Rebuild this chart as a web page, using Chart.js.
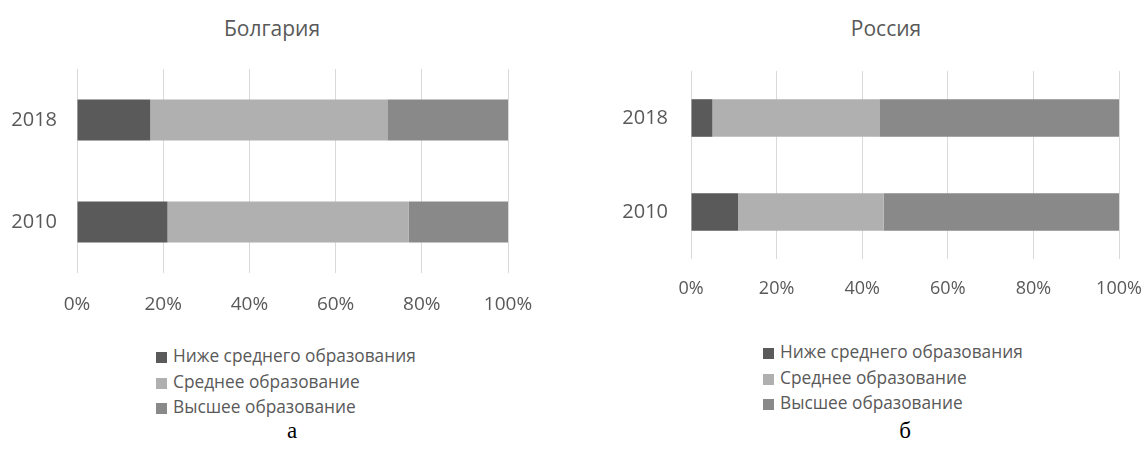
<!DOCTYPE html>
<html>
<head>
<meta charset="utf-8">
<script src="https://cdn.jsdelivr.net/npm/chart.js"></script>
<style>
  body { margin: 0; width: 1147px; height: 452px; background: #fff; position: relative; overflow: hidden;
         font-family: "Open Sans", sans-serif; color: #595959; }
  canvas { position: absolute; }
  .title { position: absolute; width: 300px; text-align: center; font-size: 21px; line-height: 30px; top: 13px; }
  .legend { position: absolute; font-size: 17.3px; }
  .legend div { height: 25.5px; line-height: 25.5px; white-space: nowrap; }
  .legend span.sw { display: inline-block; width: 11px; height: 11px; margin-right: 6px; vertical-align: -1px; }
  .cap { position: absolute; width: 100px; text-align: center; font-family: "Liberation Serif", serif;
         font-size: 23px; line-height: 26px; top: 418px; color: #000; }
</style>
</head>
<body>
<div class="title" style="left:122px">Болгария</div>
<div class="title" style="left:736px">Россия</div>
<canvas id="bg" width="540" height="270" style="left:0;top:50px"></canvas>
<canvas id="ru" width="547" height="270" style="left:600px;top:50px"></canvas>
<div class="legend" id="legBg" style="left:156px;top:343px"></div>
<div class="legend" id="legRu" style="left:763px;top:339px"></div>
<div class="cap" style="left:242px">а</div>
<div class="cap" style="left:855px">б</div>

<script>
// data
const years = ["2018", "2010"];
const seriesNames = ["Ниже среднего образования", "Среднее образование", "Высшее образование"];
const xTicks = [0, 20, 40, 60, 80, 100];

// Болгария
const bgBelow = [17, 21];
const bgSecondary = [55, 56];
const bgHigher = [28, 23];

// Россия
const ruBelow = [5, 11];
const ruSecondary = [39, 34];
const ruHigher = [56, 55];

const colors = ["#5a5a5a", "#b0b0b0", "#898989"];

function makeChart(id, values, cfg) {
  const ctx = document.getElementById(id);
  return new Chart(ctx, {
    type: "bar",
    data: {
      labels: years,
      datasets: values.map((v, i) => ({
        label: seriesNames[i],
        data: v,
        backgroundColor: colors[i],
        borderWidth: 0,
        barPercentage: 0.4,
        categoryPercentage: 1,
      })),
    },
    options: {
      indexAxis: "y",
      responsive: false,
      animation: false,
      layout: { padding: cfg.padding },
      plugins: { legend: { display: false }, tooltip: { enabled: false } },
      scales: {
        x: {
          stacked: true,
          min: 0,
          max: 100,
          afterBuildTicks: (s) => { s.ticks = xTicks.map((v) => ({ value: v })); },
          afterFit: (s) => {
            s.height = cfg.xHeight;
            s.paddingLeft = 0;
            s.paddingRight = 0;
          },
          grid: { color: "#d9d9d9", drawTicks: false },
          border: { display: false },
          ticks: {
            padding: cfg.xPad,
            color: "#595959",
            font: { family: "Open Sans", size: cfg.xFont },
            callback: (v) => v + "%",
          },
        },
        y: {
          stacked: true,
          afterFit: (s) => {
            s.width = cfg.yWidth;
            s.paddingTop = 0;
            s.paddingBottom = 0;
          },
          grid: { display: false, drawTicks: false },
          border: { display: false },
          ticks: {
            padding: cfg.yPad,
            color: "#595959",
            font: { family: "Open Sans", size: 20 },
          },
        },
      },
    },
  });
}

makeChart("bg", [bgBelow, bgSecondary, bgHigher], {
  padding: { top: 19, right: 32, left: 0, bottom: 0 },
  xHeight: 47, xPad: 20, xFont: 19, yWidth: 77, yPad: 20,
});

makeChart("ru", [ruBelow, ruSecondary, ruHigher], {
  padding: { top: 21, right: 28, left: 0, bottom: 0 },
  xHeight: 61, xPad: 19, xFont: 18, yWidth: 91, yPad: 23,
});

// legends
function makeLegend(id) {
  const el = document.getElementById(id);
  seriesNames.forEach((name, i) => {
    const row = document.createElement("div");
    const sw = document.createElement("span");
    sw.className = "sw";
    sw.style.background = colors[i];
    row.appendChild(sw);
    row.appendChild(document.createTextNode(name));
    el.appendChild(row);
  });
}
makeLegend("legBg");
makeLegend("legRu");
</script>
</body>
</html>
